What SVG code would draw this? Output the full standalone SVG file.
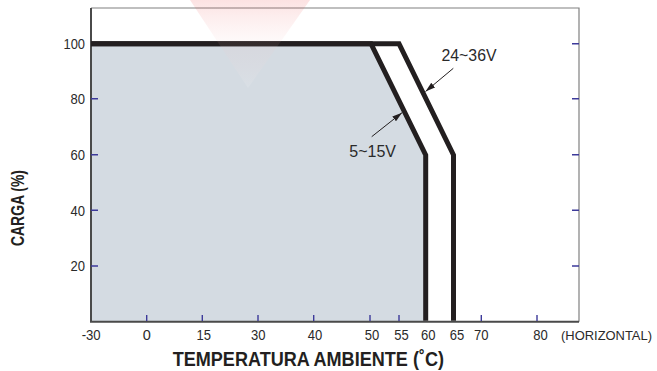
<svg xmlns="http://www.w3.org/2000/svg" width="657" height="371" viewBox="0 0 657 371">
<style>
.tick{stroke:#3d3a9a;stroke-width:1.4;fill:none}
.lbl{font-family:"Liberation Sans",Arial,sans-serif;font-size:14.5px;fill:#2a2a2a}
.ttl{font-family:"Liberation Sans",Arial,sans-serif;font-weight:bold;fill:#231f20}
.curve{fill:none;stroke:#231f20;stroke-width:5;stroke-linejoin:miter}
.arr{stroke:#231f20;stroke-width:1;fill:none}
</style>
<defs>
<marker id="ah" viewBox="0 0 10 6" refX="10" refY="3" markerWidth="10" markerHeight="6" markerUnits="userSpaceOnUse" orient="auto">
<path d="M0,0 L10,3 L0,6 z" fill="#231f20"/>
</marker>
<linearGradient id="wm" x1="0" y1="0" x2="0" y2="1">
<stop offset="0" stop-color="#e83030" stop-opacity="0.14"/>
<stop offset="0.45" stop-color="#f4b0b0" stop-opacity="0.08"/>
<stop offset="1" stop-color="#ffffff" stop-opacity="0.12"/>
</linearGradient>
</defs>
<rect width="657" height="371" fill="#ffffff"/>
<g id="plot">
<polygon points="91,43.7 371,43.7 425.7,155 425.7,321.7 91,321.7" fill="#d4dbe2"/>
<path d="M91,8 H579 V321.7" fill="none" stroke="#808080" stroke-width="1.2"/>
<path d="M91,8 V321.7 H579" fill="none" stroke="#4a4a4a" stroke-width="2"/>
</g>
<g id="ticks">
<path class="tick" d="M91,98.7 H98 M91,154.7 H98 M91,210.3 H98 M91,266 H98"/>
<path class="tick" d="M572,43.7 H579 M572,98.7 H579 M572,154.7 H579 M572,210.3 H579 M572,266 H579"/>
<path class="tick" d="M146.7,315 V321 M202.3,315 V321 M258,315 V321 M313.7,315 V321 M370,315 V321 M399,315 V321 M481.3,315 V321 M537,315 V321"/>
</g>
<g id="curve-24-36V">
<path class="curve" d="M91,43.7 H399 L453.5,155 V320.7"/>
</g>
<g id="curve-5-15V">
<path class="curve" d="M91,43.7 H371 L425.7,155 V320.7"/>
</g>
<g id="connectors">
<line class="arr" x1="453.3" y1="68.3" x2="425.5" y2="91.5" marker-end="url(#ah)"/>
<line class="arr" x1="371.7" y1="136.7" x2="402" y2="112.7" marker-end="url(#ah)"/>
</g>
<g id="labels">
<text class="lbl" x="441.5" y="60.7" style="font-size:16px" textLength="55" lengthAdjust="spacingAndGlyphs">24~36V</text>
<text class="lbl" x="349.3" y="156.7" style="font-size:16px" textLength="46.7" lengthAdjust="spacingAndGlyphs">5~15V</text>
</g>
<g id="y-axis-labels" class="lbl" text-anchor="end">
<text x="85" y="49" textLength="21.5" lengthAdjust="spacingAndGlyphs">100</text>
<text x="85" y="104" textLength="14.5" lengthAdjust="spacingAndGlyphs">80</text>
<text x="85" y="160" textLength="14.5" lengthAdjust="spacingAndGlyphs">60</text>
<text x="85" y="215.6" textLength="14.5" lengthAdjust="spacingAndGlyphs">40</text>
<text x="85" y="271.3" textLength="14.5" lengthAdjust="spacingAndGlyphs">20</text>
</g>
<g id="x-axis-labels" class="lbl" text-anchor="middle">
<text x="91.2" y="340" textLength="19" lengthAdjust="spacingAndGlyphs">-30</text>
<text x="146.7" y="340">0</text>
<text x="203.7" y="340" textLength="14.5" lengthAdjust="spacingAndGlyphs">15</text>
<text x="258.2" y="340" textLength="14.5" lengthAdjust="spacingAndGlyphs">30</text>
<text x="315" y="340" textLength="14.5" lengthAdjust="spacingAndGlyphs">40</text>
<text x="372" y="340" textLength="14.5" lengthAdjust="spacingAndGlyphs">50</text>
<text x="401.5" y="340" textLength="14.5" lengthAdjust="spacingAndGlyphs">55</text>
<text x="428.3" y="340" textLength="14.5" lengthAdjust="spacingAndGlyphs">60</text>
<text x="457" y="340" textLength="14.5" lengthAdjust="spacingAndGlyphs">65</text>
<text x="481.3" y="340" textLength="14.5" lengthAdjust="spacingAndGlyphs">70</text>
<text x="540.5" y="340" textLength="14.5" lengthAdjust="spacingAndGlyphs">80</text>
<text x="606.5" y="340" style="font-size:13px" textLength="91" lengthAdjust="spacingAndGlyphs">(HORIZONTAL)</text>
</g>
<g id="axis-titles">
<text class="ttl" x="172.7" y="365.5" style="font-size:19.5px" textLength="271.3" lengthAdjust="spacingAndGlyphs">TEMPERATURA AMBIENTE (˚C)</text>
<text class="ttl" x="0" y="0" text-anchor="middle" style="font-size:17.5px" textLength="76" lengthAdjust="spacingAndGlyphs" transform="translate(24.3,208) rotate(-90)">CARGA (%)</text>
</g>
<g id="watermark">
<polygon points="190,0 310,0 248,88" fill="url(#wm)"/>
</g>
</svg>
